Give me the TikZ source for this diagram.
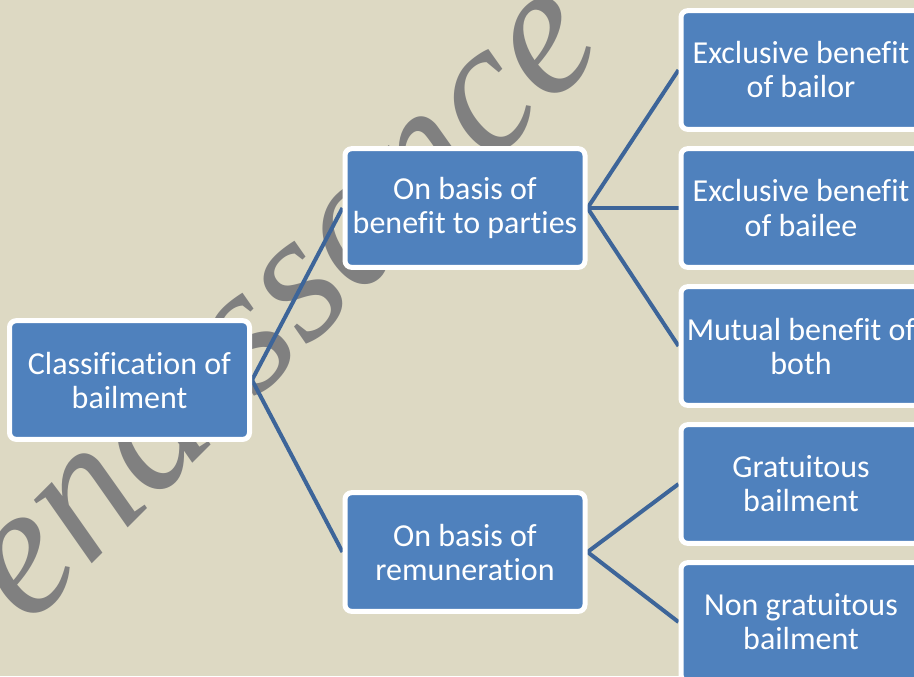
\documentclass[tikz,border=0pt]{standalone}
\usepackage{fontspec}
\setmainfont{Carlito}[Ligatures=NoCommon]
\newfontfamily\markfont{Liberation Serif}
\usetikzlibrary{backgrounds}

\definecolor{slidebg}{HTML}{DDD9C3}
\definecolor{boxblue}{HTML}{4F81BD}
\definecolor{linkblue}{HTML}{3D6599}
\definecolor{markgrey}{HTML}{808080}

\tikzset{
  classbox/.style={draw=white, line width=3.75pt, fill=boxblue, rounded corners=5pt,
    minimum width=180pt, minimum height=89pt, inner sep=2pt, align=center,
    text=white, font=\fontsize{24}{25.5}\selectfont},
  link/.style={draw=linkblue, line width=3pt}
}

\begin{document}
\begin{tikzpicture}[x=0.75pt,y=-0.75pt]
\useasboundingbox (0,0) rectangle (914,676);
% boxes
\node[classbox] (root) at (129.5,380) {Classification of\\bailment};
\node[classbox] (benefit) at (465,208) {On basis of\\benefit to parties};
\node[classbox] (remun) at (465,552) {On basis of\\remuneration};
\node[classbox] (bailor) at (801,70) {Exclusive benefit\\of bailor};
\node[classbox] (bailee) at (801,208) {Exclusive benefit\\of bailee};
\node[classbox] (mutual) at (801,346) {Mutual benefit of\\both};
\node[classbox] (gratis) at (801,484) {Gratuitous\\bailment};
\node[classbox] (nongratis) at (801,622) {Non gratuitous\\bailment};
\begin{pgfonlayer}{background}
\fill[slidebg] (0,0) rectangle (914,676);
% watermark
\node[text=markgrey, rotate=45, anchor=base,
  font=\markfont\itshape\fontsize{140}{140}\selectfont] (mark) at (318,338) {enaissance};
% connectors
\draw[link] (root.east) -- (benefit.west);
\draw[link] (root.east) -- (remun.west);
\draw[link] (benefit.east) -- (bailor.west);
\draw[link] (benefit.east) -- (bailee.west);
\draw[link] (benefit.east) -- (mutual.west);
\draw[link] (remun.east) -- (gratis.west);
\draw[link] (remun.east) -- (nongratis.west);
\end{pgfonlayer}
\end{tikzpicture}
\end{document}
